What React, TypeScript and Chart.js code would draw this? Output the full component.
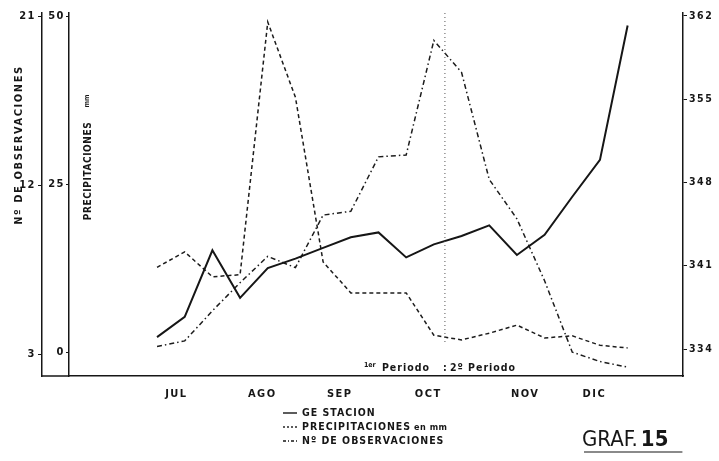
import { useEffect, useRef } from "react";
import { Chart, registerables } from "chart.js";

Chart.register(...registerables);

// Décadas (periodos de diez días) de julio a diciembre
const DECADAS = [1, 2, 3, 4, 5, 6, 7, 8, 9, 10, 11, 12, 13, 14, 15, 16, 17, 18];
// Duración de la gestación (días), eje derecho
const GESTACION = [335.0, 336.7, 342.3, 338.3, 340.8, 341.6, 342.5, 343.4, 343.8, 341.7, 342.8, 343.5, 344.4, 341.9, 343.6, 346.8, 349.9, 361.2];
// Precipitaciones en mm, eje izquierdo interior
const PRECIPITACIONES = [12.6, 14.9, 11.2, 11.5, 49.1, 37.9, 13.4, 8.8, 8.8, 8.8, 2.5, 1.8, 2.8, 4.0, 2.1, 2.4, 1.0, 0.6];
// Número de observaciones, eje izquierdo exterior
const OBSERVACIONES = [3.4, 3.7, 5.3, 6.8, 8.2, 7.6, 10.4, 10.6, 13.5, 13.6, 19.7, 18.0, 12.3, 10.2, 6.9, 3.1, 2.6, 2.3];

const MESES = ["JUL", "AGO", "SEP", "OCT", "NOV", "DIC"];
const MESES_POS = [1.7, 4.8, 7.6, 10.8, 14.3, 16.8];
const OBS_TICKS = [3, 12, 21];
const PRECIP_TICKS = [0, 25, 50];
const GEST_TICKS = [334, 341, 348, 355, 362];
// Separación entre el 1er y el 2º periodo
const CAMBIO_PERIODO = 11.4;

const FAMILIA = "'DejaVu Sans Condensed', 'Liberation Sans Narrow', sans-serif";
const TINTA = "#161616";

const serie = (valores: number[]) => DECADAS.map((d, i) => ({ x: d, y: valores[i] }));

const fijarTicks = (valores: number[]) => (axis: any) => {
  axis.ticks = valores.map((v) => ({ value: v }));
};

const anotaciones = {
  id: "anotaciones",
  beforeDraw(chart: any) {
    chart.ctx.letterSpacing = "1.5px";
  },
  afterDraw(chart: any) {
    const { ctx, chartArea, scales } = chart;
    ctx.save();
    ctx.letterSpacing = "0px";
    ctx.fillStyle = TINTA;
    ctx.strokeStyle = TINTA;

    // prolongación del eje horizontal hasta el eje de observaciones
    const xObs = scales.yObs.right;
    ctx.lineWidth = 1.5;
    ctx.beginPath();
    ctx.moveTo(xObs, chartArea.bottom);
    ctx.lineTo(chartArea.left, chartArea.bottom);
    ctx.stroke();

    // títulos de los ejes izquierdos
    ctx.save();
    ctx.translate(19, 145);
    ctx.rotate(-Math.PI / 2);
    ctx.font = `bold 11px ${FAMILIA}`;
    ctx.letterSpacing = "1.6px";
    ctx.textAlign = "center";
    ctx.textBaseline = "middle";
    ctx.fillText("Nº DE OBSERVACIONES", 0, 0);
    ctx.restore();

    ctx.save();
    ctx.translate(88, 171);
    ctx.rotate(-Math.PI / 2);
    ctx.font = `bold 10px ${FAMILIA}`;
    ctx.letterSpacing = "0.6px";
    ctx.textAlign = "center";
    ctx.textBaseline = "middle";
    ctx.fillText("PRECIPITACIONES", 0, 0);
    ctx.font = `bold 7px ${FAMILIA}`;
    ctx.letterSpacing = "0px";
    ctx.fillText("mm", 70, -1);
    ctx.restore();

    // línea de separación de periodos
    const xp = scales.x.getPixelForValue(CAMBIO_PERIODO);
    ctx.save();
    ctx.strokeStyle = "#555";
    ctx.lineWidth = 1;
    ctx.setLineDash([1, 3]);
    ctx.beginPath();
    ctx.moveTo(xp, chartArea.top);
    ctx.lineTo(xp, chartArea.bottom - 32);
    ctx.stroke();
    ctx.restore();

    ctx.textBaseline = "middle";
    ctx.textAlign = "left";
    ctx.font = `bold 7px ${FAMILIA}`;
    ctx.fillText("1er", xp - 81, 365);
    ctx.font = `bold 10.5px ${FAMILIA}`;
    ctx.letterSpacing = "1px";
    ctx.fillText("Periodo", xp - 63, 368);
    ctx.fillText(":", xp - 2, 368);
    ctx.fillText("2º Periodo", xp + 5, 368);

    // leyenda
    const lx = 283;
    const filas = [
      { y: 413, dash: [] as number[], texto: "GE STACION" },
      { y: 427, dash: [2, 2], texto: "PRECIPITACIONES" },
      { y: 441, dash: [3, 2, 1, 2], texto: "Nº DE OBSERVACIONES" },
    ];
    for (const f of filas) {
      ctx.save();
      ctx.lineWidth = 1.4;
      ctx.setLineDash(f.dash);
      ctx.beginPath();
      ctx.moveTo(lx, f.y);
      ctx.lineTo(lx + 14, f.y);
      ctx.stroke();
      ctx.restore();
      ctx.font = `bold 10.5px ${FAMILIA}`;
      ctx.letterSpacing = "1px";
      ctx.fillText(f.texto, lx + 19, f.y);
    }
    const anchoPrecip = ctx.measureText("PRECIPITACIONES").width;
    ctx.font = `bold 9px ${FAMILIA}`;
    ctx.letterSpacing = "0.5px";
    ctx.fillText("en mm", lx + 19 + anchoPrecip + 3, 428);

    // rótulo del gráfico
    ctx.letterSpacing = "0px";
    ctx.textBaseline = "alphabetic";
    ctx.font = `22px ${FAMILIA}`;
    const gx = 582;
    ctx.fillText("GRAF.", gx, 446);
    const wg = ctx.measureText("GRAF.").width;
    ctx.font = `bold 22px ${FAMILIA}`;
    ctx.fillText("15", gx + wg + 3, 446);
    const w15 = ctx.measureText("15").width;
    ctx.lineWidth = 1.2;
    ctx.beginPath();
    ctx.moveTo(gx + 2, 452);
    ctx.lineTo(gx + wg + 3 + w15 + 14, 452);
    ctx.stroke();

    ctx.restore();
  },
};

const fuenteTicks = { family: FAMILIA, size: 11, weight: "bold" as const };

export default function App() {
  const ref = useRef<HTMLCanvasElement>(null);

  useEffect(() => {
    const chart = new Chart(ref.current!, {
      type: "line",
      data: {
        datasets: [
          {
            label: "GESTACION",
            data: serie(GESTACION),
            yAxisID: "yGest",
            borderColor: TINTA,
            borderWidth: 2,
            pointRadius: 0,
            tension: 0,
          },
          {
            label: "PRECIPITACIONES en mm",
            data: serie(PRECIPITACIONES),
            yAxisID: "yPrecip",
            borderColor: "#1c1c1c",
            borderWidth: 1.5,
            borderDash: [4, 3],
            pointRadius: 0,
            tension: 0,
          },
          {
            label: "Nº DE OBSERVACIONES",
            data: serie(OBSERVACIONES),
            yAxisID: "yObs",
            borderColor: "#1c1c1c",
            borderWidth: 1.5,
            borderDash: [5, 3, 1.5, 3],
            pointRadius: 0,
            tension: 0,
          },
        ],
      },
      options: {
        animation: false,
        responsive: false,
        events: [],
        layout: { padding: { top: 13, left: 0, right: 0, bottom: 0 } },
        plugins: { legend: { display: false }, tooltip: { enabled: false } },
        scales: {
          x: {
            type: "linear",
            min: -2.18,
            max: 20,
            afterBuildTicks: fijarTicks(MESES_POS),
            afterFit: (s: any) => {
              s.height = 85;
            },
            ticks: {
              autoSkip: false,
              maxRotation: 0,
              padding: 12,
              color: TINTA,
              font: fuenteTicks,
              callback: (_v: any, i: number) => MESES[i],
            },
            grid: { display: false, drawTicks: false },
            border: { display: true, color: TINTA, width: 1.5 },
          },
          yObs: {
            type: "linear",
            position: "left",
            weight: 2,
            min: 1.83,
            max: 21.16,
            afterBuildTicks: fijarTicks(OBS_TICKS),
            afterFit: (s: any) => {
              s.width = 42;
            },
            ticks: { padding: 2, color: TINTA, font: fuenteTicks },
            grid: { drawOnChartArea: false, drawTicks: true, tickLength: 4, color: TINTA },
            border: { display: true, color: TINTA, width: 1.5 },
          },
          yPrecip: {
            type: "linear",
            position: "left",
            weight: 1,
            min: -3.57,
            max: 50.45,
            afterBuildTicks: fijarTicks(PRECIP_TICKS),
            afterFit: (s: any) => {
              s.width = 27;
            },
            ticks: { padding: 1, color: TINTA, font: fuenteTicks },
            grid: { drawOnChartArea: false, drawTicks: true, tickLength: 3, color: TINTA },
            border: { display: true, color: TINTA, width: 1.5 },
          },
          yGest: {
            type: "linear",
            position: "right",
            min: 331.73,
            max: 362.25,
            afterBuildTicks: fijarTicks(GEST_TICKS),
            afterFit: (s: any) => {
              s.width = 36;
            },
            ticks: { padding: 2, color: TINTA, font: { ...fuenteTicks, size: 10.5 } },
            grid: { drawOnChartArea: false, drawTicks: true, tickLength: 4, color: TINTA },
            border: { display: true, color: TINTA, width: 1.5 },
          },
        },
      },
      plugins: [anotaciones],
    });
    return () => chart.destroy();
  }, []);

  return (
    <div style={{ position: "fixed", left: 0, top: 0, width: 719, height: 461, background: "#fff" }}>
      <canvas ref={ref} width={719} height={461} style={{ display: "block" }} />
    </div>
  );
}
